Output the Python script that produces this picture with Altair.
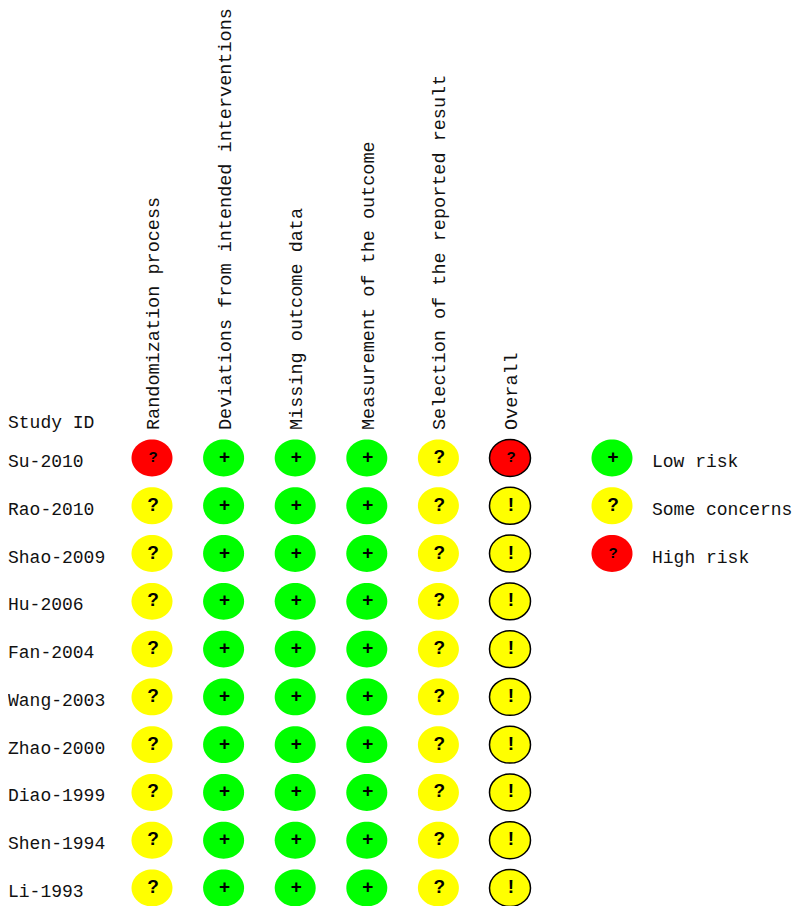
import altair as alt
import pandas as pd

studies = ["Su-2010", "Rao-2010", "Shao-2009", "Hu-2006", "Fan-2004",
           "Wang-2003", "Zhao-2000", "Diao-1999", "Shen-1994", "Li-1993"]
domains = ["Randomization process", "Deviations from intended interventions",
           "Missing outcome data", "Measurement of the outcome",
           "Selection of the reported result", "Overall"]
randomization = ["High"] + ["Some"] * 9
deviations = ["Low"] * 10
missing = ["Low"] * 10
measurement = ["Low"] * 10
selection = ["Some"] * 10
overall = ["High"] + ["Some"] * 9
legend_labels = ["Low risk", "Some concerns", "High risk"]
legend_keys = ["Low", "Some", "High"]
legend_rows = ["Su-2010", "Rao-2010", "Shao-2009"]
risk_colors = ["#00FF00", "#FFFF00", "#FF0000"]

columns = [randomization, deviations, missing, measurement, selection, overall]
records = []
for d, col in zip(domains, columns):
    for s, j in zip(studies, col):
        glyph = {"Low": "+", "Some": "!" if d == "Overall" else "?", "High": "?"}[j]
        records.append({"domain": d, "study": s, "risk": j, "glyph": glyph,
                        "outlined": d == "Overall"})
cells = pd.DataFrame(records)
df_studies = pd.DataFrame({"study": studies})
df_domains = pd.DataFrame({"domain": domains})
df_legend = pd.DataFrame({"study": legend_rows, "label": legend_labels, "risk": legend_keys,
                          "glyph": ["+", "?", "?"]})

W, H = 784, 898
MONO = "Liberation Mono"
ELLIPSE = "M -1 0 A 1 0.9 0 1 0 1 0 A 1 0.9 0 1 0 -1 0 Z"

xs = alt.Scale(type="point", domain=domains, range=[144, 502], padding=0)
ys = alt.Scale(type="point", domain=studies, range=[450, 880], padding=0)
cs = alt.Scale(domain=legend_keys, range=risk_colors)
X = alt.X("domain:N", scale=xs, axis=None)
Y = alt.Y("study:N", scale=ys, axis=None)
C = alt.Color("risk:N", scale=cs, legend=None)


def glyphs(data, x):
    base = alt.Chart(data).encode(x=x, y=Y, text="glyph:N")
    big = base.transform_filter("datum.risk != 'High'").mark_text(
        font="Liberation Sans", fontSize=19, fontWeight="bold", color="black", dx=1, dy=-1)
    small = base.transform_filter("datum.risk == 'High'").mark_text(
        font="Liberation Sans", fontSize=15, fontWeight="bold", color="black", dx=1, dy=-1)
    return big + small


plain = alt.Chart(cells).transform_filter("!datum.outlined").mark_point(
    shape=ELLIPSE, size=1681, filled=True, opacity=1).encode(x=X, y=Y, color=C)
ringed = alt.Chart(cells).transform_filter("datum.outlined").mark_point(
    shape=ELLIPSE, size=1681, filled=False, opacity=1, fillOpacity=1,
    stroke="black", strokeWidth=1.5).encode(x=X, y=Y, fill=alt.Fill("risk:N", scale=cs, legend=None))

row_labels = alt.Chart(df_studies).mark_text(
    font=MONO, fontSize=18, align="left", color="#111111", dy=4
).encode(x=alt.value(0), y=Y, text="study:N")
header = alt.Chart(pd.DataFrame({"t": ["Study ID"]})).mark_text(
    font=MONO, fontSize=18, align="left", color="#111111"
).encode(x=alt.value(0), y=alt.value(415), text="t:N")
col_labels = alt.Chart(df_domains).mark_text(
    font=MONO, fontSize=18.5, align="left", baseline="middle", angle=270, color="#111111", dy=1
).encode(x=X, y=alt.value(422), text="domain:N")

legend_x = alt.value(604)
legend_marks = alt.Chart(df_legend).mark_point(
    shape=ELLIPSE, size=1681, filled=True, opacity=1).encode(x=legend_x, y=Y, color=C)
legend_text = alt.Chart(df_legend).mark_text(
    font=MONO, fontSize=18, align="left", color="#111111", dy=4
).encode(x=alt.value(644), y=Y, text="label:N")

chart = alt.layer(
    plain, ringed, glyphs(cells, X), row_labels, header, col_labels,
    legend_marks, glyphs(df_legend, legend_x), legend_text
).properties(
    width=W, height=H, padding=0,
    autosize=alt.AutoSizeParams(type="none")
).configure_view(stroke=None).resolve_scale(color="shared", fill="shared")

chart.save("out.html", embed_options={"renderer": "svg", "actions": False})
